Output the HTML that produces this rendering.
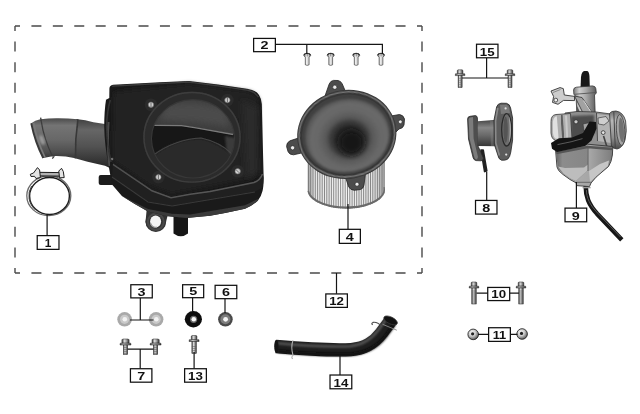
<!DOCTYPE html>
<html><head><meta charset="utf-8">
<style>
html,body{margin:0;padding:0;background:#fff;}
body{width:640px;height:414px;overflow:hidden;font-family:"Liberation Sans",sans-serif;}
svg{display:block;}
.lb rect{fill:#fff;stroke:#111;stroke-width:1.25;}
.lb text{font-family:"Liberation Sans",sans-serif;font-weight:bold;font-size:11.5px;fill:#111;text-anchor:middle;}
.ln{stroke:#151515;stroke-width:1.2;fill:none;}
.ds{stroke:#4a4a4a;stroke-width:1.4;fill:none;}
</style></head><body>
<svg width="640" height="414" viewBox="0 0 640 414">
<defs>
<linearGradient id="gBolt" x1="0" x2="1" y1="0" y2="0">
 <stop offset="0" stop-color="#3a3a3a"/><stop offset=".35" stop-color="#dadada"/><stop offset=".6" stop-color="#a8a8a8"/><stop offset="1" stop-color="#333"/>
</linearGradient>
<linearGradient id="gScrew" x1="0" x2="1" y1="0" y2="0">
 <stop offset="0" stop-color="#555"/><stop offset=".4" stop-color="#eee"/><stop offset=".7" stop-color="#ccc"/><stop offset="1" stop-color="#444"/>
</linearGradient>
<radialGradient id="gNut" cx=".4" cy=".35" r=".7">
 <stop offset="0" stop-color="#fafafa"/><stop offset=".45" stop-color="#cdcdcd"/><stop offset=".8" stop-color="#7a7a7a"/><stop offset="1" stop-color="#333"/>
</radialGradient>
<filter id="b05" x="-20%" y="-20%" width="140%" height="140%"><feGaussianBlur stdDeviation=".5"/></filter>
<filter id="b1" x="-20%" y="-20%" width="140%" height="140%"><feGaussianBlur stdDeviation="1"/></filter>
<filter id="b2" x="-20%" y="-20%" width="140%" height="140%"><feGaussianBlur stdDeviation="2"/></filter>
<filter id="b3" x="-20%" y="-20%" width="140%" height="140%"><feGaussianBlur stdDeviation="3"/></filter>
<filter id="b5" x="-30%" y="-30%" width="160%" height="160%"><feGaussianBlur stdDeviation="5"/></filter>
<!-- flange bolt, origin at top-center, total length set by use of shaft rect -->
<g id="boltS">
 <path d="M-3.6 0.8 L-2.8 0 H2.8 L3.6 0.8 V4.2 H-3.6Z" fill="url(#gBolt)" stroke="#222" stroke-width=".5"/>
 <path d="M-5.2 4.2 H5.2 L5.5 6 H-5.5Z" fill="url(#gBolt)" stroke="#222" stroke-width=".5"/>
 <rect x="-2.1" y="6" width="4.2" height="9.6" fill="url(#gBolt)" stroke="#222" stroke-width=".5"/>
 <path d="M-2.1 8.5H2.1M-2.1 10.5H2.1M-2.1 12.5H2.1M-2.1 14.5H2.1" stroke="#5a5a5a" stroke-width=".5"/>
</g>
<g id="boltL">
 <path d="M-2.8 0.6 L-2 0 H2 L2.8 0.6 V4.2 H-2.8Z" fill="url(#gBolt)" stroke="#222" stroke-width=".5"/>
 <path d="M-4.6 4.2 H4.6 L4.8 6 H-4.8Z" fill="url(#gBolt)" stroke="#222" stroke-width=".5"/>
 <rect x="-2.2" y="6" width="4.4" height="16" fill="url(#gBolt)" stroke="#222" stroke-width=".5"/>
 <path d="M-2.2 9H2.2M-2.2 11H2.2M-2.2 13H2.2M-2.2 15H2.2M-2.2 17H2.2M-2.2 19H2.2M-2.2 21H2.2" stroke="#5a5a5a" stroke-width=".5"/>
</g>
<g id="bolt15">
 <path d="M-2.8 0.6 L-2 0 H2 L2.8 0.6 V4 H-2.8Z" fill="url(#gBolt)" stroke="#222" stroke-width=".5"/>
 <path d="M-4.6 4 H4.6 L4.8 5.8 H-4.8Z" fill="url(#gBolt)" stroke="#222" stroke-width=".5"/>
 <rect x="-2" y="5.8" width="4" height="12" fill="url(#gBolt)" stroke="#222" stroke-width=".5"/>
 <path d="M-2 8.5H2M-2 10.5H2M-2 12.5H2M-2 14.5H2M-2 16.5H2" stroke="#5a5a5a" stroke-width=".5"/>
</g>
<g id="bolt13">
 <path d="M-2.8 0.6 L-2 0 H2 L2.8 0.6 V4.2 H-2.8Z" fill="url(#gBolt)" stroke="#222" stroke-width=".5"/>
 <path d="M-4.8 4.2 H4.8 L5 6 H-5Z" fill="url(#gBolt)" stroke="#222" stroke-width=".5"/>
 <rect x="-2.2" y="6" width="4.4" height="12" fill="url(#gBolt)" stroke="#222" stroke-width=".5"/>
 <path d="M-2.2 11H2.2M-2.2 13H2.2M-2.2 15H2.2M-2.2 17H2.2" stroke="#5a5a5a" stroke-width=".5"/>
</g>
<g id="screw">
 <path d="M-3.5 2.2 Q-3.5 0 0 0 Q3.5 0 3.5 2.2 L1.9 4.2 V11.6 Q0 12.8 -1.9 11.6 V4.2Z" fill="url(#gScrew)" stroke="#333" stroke-width=".6"/>
 <path d="M-3.2 1.8 Q-2.8 .3 0 .3 Q2.8 .3 3.2 1.8" fill="none" stroke="#2a2a2a" stroke-width="1.1"/>
 <path d="M0 .8V3.2" stroke="#444" stroke-width=".6"/>
</g>
</defs>
<rect width="640" height="414" fill="#fff"/>
<!-- dashed frame -->
<g class="ds">
<path d="M15 26H422" stroke-dasharray="10 11.42" stroke-dashoffset="5"/>
<path d="M15 273H422" stroke-dasharray="10 11.42" stroke-dashoffset="5"/>
<path d="M15 26V273" stroke-dasharray="10 10.58" stroke-dashoffset="5"/>
<path d="M422 26V273" stroke-dasharray="10 10.58" stroke-dashoffset="5"/>
</g>
<!-- PARTS -->
<g id="parts">

<!-- ===== HOSE 14 ===== -->
<g id="hose14">
 <path d="M276 346.5 C300 348.5 330 350.6 351 349.6 C366 348.6 374.5 342 381.5 333 L391 320.2" fill="none" stroke="#1e1e1e" stroke-width="13.4" stroke-linecap="butt"/>
 <path d="M278 343.3 C300 345.3 330 347.2 350 346.2 C363 345 371 339.5 378 330.5 L386 319.5" fill="none" stroke="#565656" stroke-width="2.6" filter="url(#b1)"/>
 <path d="M278 351.3 C300 353.3 330 355.3 352 354.2 C369 352.5 378.5 345.5 385.5 336.5 L394.5 324" fill="none" stroke="#0c0c0c" stroke-width="3" filter="url(#b1)"/>
 <!-- left end -->
 <ellipse cx="276.3" cy="346.4" rx="2.1" ry="6.6" fill="#141414"/>
 <!-- right end cap -->
 <ellipse cx="390.6" cy="320.4" rx="7.4" ry="3.4" transform="rotate(26 390.6 320.4)" fill="#121212" stroke="#3a3a3a" stroke-width=".7"/>
 <path d="M382.6 324.3 L396.8 330.2" stroke="#8a8a8a" stroke-width=".9"/>
 <!-- clamps -->
 <path d="M293 340.3 C291.4 345 291.4 350 293 355.3 q-2.2 2 -.2 3.6" fill="none" stroke="#b0b0b0" stroke-width="1.1"/>
 <path d="M382 326.5 C379 323.5 376 321.8 373 322.4 q-2.2 1 -.3 2.4" fill="none" stroke="#4a4a4a" stroke-width="1.1"/>
</g>
<!-- ===== CLAMP 1 ===== -->
<g id="clamp1">
 <ellipse cx="48.8" cy="195.8" rx="22" ry="19.9" fill="none" stroke="#6a6a6a" stroke-width="1.3"/>
 <ellipse cx="49.5" cy="196" rx="19.9" ry="18.5" fill="none" stroke="#1c1c1c" stroke-width="1.4"/>
 <path d="M30 186 A22 19.9 0 0 0 34 210" fill="none" stroke="#444" stroke-width="1" transform="translate(1.6 0)"/>
 <!-- band + screw -->
 <path d="M38 172.3 L60 172.6 L60 176.3 L38 176Z" fill="#8a8a8a" stroke="#1e1e1e" stroke-width="1"/>
 <path d="M39 174 H59" stroke="#d9d9d9" stroke-width="1"/>
 <path d="M30.3 174.3 L33.5 173 L37.5 167.6 L39.6 170 L40.4 177.5 L36 178.5 L34.5 176.3 L31 176.5Z" fill="#e4e4e4" stroke="#1e1e1e" stroke-width="1"/>
 <path d="M58.8 171 L61.5 168.3 L63.3 171.5 L64.2 177.6 L59.5 177.8Z" fill="#e4e4e4" stroke="#1e1e1e" stroke-width="1"/>
</g>
<!-- ===== INTAKE HOSE ===== -->
<g id="inhose">
 <defs>
  <linearGradient id="gIn1" x1="0" x2="0" y1="0" y2="1">
   <stop offset="0" stop-color="#4a4a4a"/><stop offset=".18" stop-color="#747474"/><stop offset=".55" stop-color="#676767"/><stop offset=".85" stop-color="#4e4e4e"/><stop offset="1" stop-color="#363636"/>
  </linearGradient>
  <linearGradient id="gIn2" x1="0" x2="0" y1="0" y2="1">
   <stop offset="0" stop-color="#404040"/><stop offset=".22" stop-color="#666"/><stop offset=".55" stop-color="#525252"/><stop offset="1" stop-color="#242424"/>
  </linearGradient>
 </defs>
 <!-- right segment -->
 <path d="M76 119 Q86 120 93.4 122.2 L105 124.1 L112 126 L112 169 L105 165.8 L87.6 161.8 Q80 159.5 74 158Z" fill="url(#gIn2)"/>
 <!-- left segment -->
 <path d="M31.2 123.2 Q35 120.5 40.3 119.3 Q50 118 58.6 118.2 Q68 118.3 77.9 119.3 Q75 139 75.5 158.2 Q64 155.6 53.8 156 L43.2 158 Q35 142 31.2 123.2Z" fill="url(#gIn1)"/>
 <path d="M77.9 119.3 Q75 139 75.5 158.2" fill="none" stroke="#383838" stroke-width="1.6" filter="url(#b05)"/>
 <!-- flared rim -->
 <path d="M31.2 123.2 Q35 142 43.2 158" fill="none" stroke="#383838" stroke-width="1.8"/>
 <path d="M33.6 123 Q37 141 45 157.3" fill="none" stroke="#7a7a7a" stroke-width="1.6" filter="url(#b05)"/>
 <path d="M41 120 Q44 139.5 52.6 156.4" fill="none" stroke="#3c3c3c" stroke-width="1.3" filter="url(#b05)"/>
 <ellipse cx="42" cy="140" rx="2.2" ry="5" fill="#9a9a9a" transform="rotate(-20 42 140)" filter="url(#b1)"/>
 <path d="M40.6 117.6 L41.2 120.5 M52.3 158.6 L54.3 156.2" stroke="#3c3c3c" stroke-width="1.3"/>
</g>
<!-- ===== AIRBOX ===== -->
<g id="airbox">
 <!-- small tube left -->
 <rect x="98.7" y="175" width="15" height="10" rx="2" fill="#1c1c1c"/>
 <path d="M100 177.6 H111" stroke="#8a8a8a" stroke-width="1.6" filter="url(#b05)"/>
 <!-- mounting lug -->
 <path d="M147 206 L145.5 222 A10.3 10.3 0 0 0 166 222 L168 214Z" fill="#333"/>
 <circle cx="155.8" cy="221.8" r="10.3" fill="#343434"/>
 <circle cx="155.8" cy="221.8" r="8" fill="none" stroke="#4a4a4a" stroke-width="2" filter="url(#b05)"/>
 <ellipse cx="155.6" cy="221.5" rx="5.5" ry="5.9" fill="#f4f4f4"/>
 <path d="M150.6 223.5 A5.5 5.9 0 0 0 157 227.2" fill="none" stroke="#999" stroke-width="1.5" filter="url(#b05)"/>
 <!-- drain tube -->
 <path d="M173.5 212 H188 V233.5 Q180.8 239 173.5 233.5Z" fill="#161616"/>
 <path d="M179.5 218 V234" stroke="#5a5a5a" stroke-width="2.5" filter="url(#b1)"/>
 <!-- box body silhouette -->
 <path d="M105.6 100 L109.3 98 L109.4 88.5 Q109.6 85.2 113 84.7 L160 82.2 L189 80.9 L218 84.5 L247 88.8 Q256 90 259 95 Q261.6 99 261.8 104 L263.6 176 Q263.8 186 262.5 191 Q261 197 258 200.5 Q252 206 245 208.8 L225 213 L210 215.8 L186 218 L166 216 L148 211.5 L134.4 203.8 L121.9 196 L112 184.4 L108.5 165 Q104.5 145 104.2 126.5 Q104.3 110 106 100Z" fill="#1a1a1a"/>
 <path d="M108.5 122 Q106.8 140 109.5 166" fill="none" stroke="#4c4c4c" stroke-width="2.2" filter="url(#b05)"/>
 <circle cx="112.2" cy="159" r="1.2" fill="#bbb"/>
 <!-- bottom strip of box -->
 <path d="M122 196 L148 209 L172 213.8 L190 214.6 L245 205.2 L258 199 L258 200.5 Q252 206 245 208.8 L225 213 L210 215.8 L186 218 L166 216 L148 211.5 L134.4 203.8Z" fill="#3a3a3a" filter="url(#b05)"/>
 <!-- lid depth band -->
 <path d="M113 163.5 L152 190 L171 197 L190 193.5 L210 190.8 L254 181.8 Q261 179 262.6 172 L263.6 178 Q263.6 184 262 188 L255 191.5 L172 205.5 L148 201.5 L112 176.5Z" fill="#202020"/>
 <path d="M113 164.3 L152 190.8 L171 197.8 L190 194.2 L210 191.5 L254 182.5 Q260.5 180 262.4 174" fill="none" stroke="#585858" stroke-width="1.5" filter="url(#b05)"/>
 <path d="M112 177 L148 202 L172 206 L255 192" fill="none" stroke="#393939" stroke-width="1.1" filter="url(#b05)"/>
 <!-- lid face subtle shading -->
 <path d="M114 92 L112 160 L150 186 L171 194 L254 178 L259 100 Q255 92 247 91 L189 83.5Z" fill="#202020" filter="url(#b2)"/>
 <path d="M242 100 L258 108 L259 172 L246 178Z" fill="#292929" filter="url(#b3)"/>
 <!-- top edge highlight -->
 <path d="M112 86.2 L160 83.5 L189 82.2 L218 85.8 L247 90.2 Q255 91.5 258.5 97" fill="none" stroke="#3c3c3c" stroke-width="1.3" filter="url(#b05)"/>
 <path d="M110.3 100 Q106.8 112 106.6 126.5 Q107 145 111 162" fill="none" stroke="#343434" stroke-width="1.6" filter="url(#b05)"/>
 <!-- rim around opening with bosses -->
 <g fill="#2b2b2b">
  <ellipse cx="192" cy="137.3" rx="49" ry="45.8"/>
  <circle cx="151" cy="104.7" r="6.3"/><circle cx="227.4" cy="100.1" r="6.3"/><circle cx="237.7" cy="171.3" r="6.3"/><circle cx="158.4" cy="177.1" r="6.3"/>
 </g>
 <ellipse cx="192" cy="137.3" rx="48" ry="44.8" fill="none" stroke="#3d3d3d" stroke-width="1.4" filter="url(#b05)"/>
 <!-- opening -->
 <ellipse cx="193" cy="138.8" rx="41.5" ry="39.2" fill="#141414"/>
 <clipPath id="cpOpen"><ellipse cx="193" cy="138.8" rx="41.5" ry="39.2"/></clipPath>
 <g clip-path="url(#cpOpen)">
  <path d="M148 95 H240 V137 L233.2 134 L196 127.5 L181.5 125.4 L153 124.8 L148 130Z" fill="#3e3e3e" filter="url(#b05)"/>
  <path d="M165 106 Q195 98 226 110 L230 127 L196 122 L160 120Z" fill="#4c4c4c" filter="url(#b3)"/>
  <path d="M153 125.3 L181.5 125.6 L196 127.8 L233.2 134.5" fill="none" stroke="#7a7a7a" stroke-width="1.3" filter="url(#b05)"/>
  <path d="M152 127 L181.5 127 L196 129.3 L234 136 L236 156 Q225 146 201 138 Q175 139 153 156Z" fill="#171717"/>
  <path d="M225 136 L236 138 V170 L228 165Z" fill="#3a3a3a" filter="url(#b1)"/>
  <path d="M150 158 Q172 139.5 201 138.5 Q222 143 234 158 Q236 175 215 182 Q185 188 158 172Z" fill="#2b2b2b" filter="url(#b1)"/>
  <path d="M153.6 155 Q174.8 139.4 201 138 Q220 142 232 154" fill="none" stroke="#454545" stroke-width="1.1" filter="url(#b05)"/>
 </g>
 <ellipse cx="193" cy="138.8" rx="41.5" ry="39.2" fill="none" stroke="#383838" stroke-width="1.1"/>
 <!-- screws -->
 <g>
  <circle cx="151" cy="104.7" r="2.7" fill="#cfcfcf" stroke="#666" stroke-width=".6"/><path d="M151 102.5V106.9" stroke="#555" stroke-width=".8"/>
  <circle cx="227.4" cy="100.1" r="2.7" fill="#cfcfcf" stroke="#666" stroke-width=".6"/><path d="M227.4 97.9V102.3" stroke="#555" stroke-width=".8"/>
  <circle cx="237.7" cy="171.3" r="2.7" fill="#cfcfcf" stroke="#666" stroke-width=".6"/><path d="M236.2 169.8L239.2 172.8" stroke="#555" stroke-width=".8"/>
  <circle cx="158.4" cy="177.1" r="2.7" fill="#cfcfcf" stroke="#666" stroke-width=".6"/><path d="M158.4 174.9V179.3" stroke="#555" stroke-width=".8"/>
 </g>
</g>

<!-- ===== FILTER 4 ===== -->
<g id="filter4">
 <defs>
  <linearGradient id="gPleat" x1="0" x2="1" y1="0" y2="0">
   <stop offset="0" stop-color="#9a9a9a"/><stop offset=".1" stop-color="#e6e6e6"/><stop offset=".5" stop-color="#f2f2f2"/><stop offset=".88" stop-color="#e2e2e2"/><stop offset="1" stop-color="#a0a0a0"/>
  </linearGradient>
  <radialGradient id="gFun" cx="348.5" cy="139" r="43" gradientUnits="userSpaceOnUse" gradientTransform="translate(348.5 139) scale(1 .92) translate(-348.5 -139)">
   <stop offset="0" stop-color="#1e1e1e"/><stop offset=".3" stop-color="#272727"/><stop offset=".43" stop-color="#3c3c3c"/><stop offset=".54" stop-color="#585858"/><stop offset=".7" stop-color="#666"/><stop offset=".88" stop-color="#6a6a6a"/><stop offset="1" stop-color="#585858"/>
  </radialGradient>
  <clipPath id="cpF"><path d="M307.7 150 V192 A38.4 18.6 0 0 0 384.7 188 V150Z"/></clipPath>
 </defs>
 <!-- pleated body -->
 <g clip-path="url(#cpF)">
  <rect x="307" y="150" width="78" height="65" fill="url(#gPleat)"/>
  <path d="M308.40 160V214M310.70 160V214M313.00 160V214M315.30 160V214M317.60 160V214M319.90 160V214M322.20 160V214M324.50 160V214M326.80 160V214M329.10 160V214M331.40 160V214M333.70 160V214M336.00 160V214M338.30 160V214M340.60 160V214M342.90 160V214M345.20 160V214M347.50 160V214M349.80 160V214M352.10 160V214M354.40 160V214M356.70 160V214M359.00 160V214M361.30 160V214M363.60 160V214M365.90 160V214M368.20 160V214M370.50 160V214M372.80 160V214M375.10 160V214M377.40 160V214M379.70 160V214M382.00 160V214M384.30 160V214" stroke="#6a6a6a" stroke-width=".9" opacity=".85"/>
  <path d="M307.7 165 H385" stroke="#555" stroke-width="14" opacity=".35" filter="url(#b3)"/>
  <path d="M307.7 191 A38.4 18.6 0 0 0 384.7 187" fill="none" stroke="#6a6a6a" stroke-width="2.6" filter="url(#b05)"/>
 </g>
 <!-- lugs -->
 <g fill="#4c4c4c" stroke="#222" stroke-width=".8">
  <path d="M325 96 L329.2 84 Q330.5 80.8 333.5 80.4 L338 80.5 Q341 81 342.3 84 L346.5 94Z"/>
  <path d="M391 116 L399.5 114.5 Q403.5 115 404.5 119 L404 125 Q403 128.5 399 129 L394 134Z"/>
  <path d="M345 176 L348.8 187 Q350.3 190 354.3 190.3 L360.5 189.5 Q363.5 188.5 364 185 L365.5 173Z"/>
  <path d="M303 136.5 L290 140.8 Q286.5 142.5 286.6 146.5 L288 151.5 Q289.5 155 293.5 154.8 L306 152Z"/>
 </g>
 <g fill="#ececec" stroke="#222" stroke-width=".6">
  <circle cx="334.8" cy="87.2" r="2.1"/><circle cx="400.3" cy="121.8" r="1.9"/><circle cx="357" cy="184.2" r="2"/><circle cx="292.6" cy="147.8" r="2.1"/>
 </g>
 <!-- flange -->
 <g transform="rotate(-10 346.8 134.4)">
  <ellipse cx="346.8" cy="134.4" rx="49.8" ry="44.4" fill="#363636"/>
  <ellipse cx="346.8" cy="134.4" rx="47.8" ry="42.4" fill="none" stroke="#747474" stroke-width="1.5" filter="url(#b05)"/>
  <ellipse cx="346.8" cy="134.4" rx="45" ry="39.6" fill="#404040"/>
 </g>
 <ellipse cx="347.3" cy="135.5" rx="42.3" ry="36.6" transform="rotate(-10 347.3 135.5)" fill="url(#gFun)" filter="url(#b1)"/>
 <ellipse cx="351.5" cy="142.5" rx="12" ry="12" fill="#161616" filter="url(#b3)"/>
</g>
<!-- ===== MANIFOLD 8 ===== -->
<g id="man8">
 <defs>
  <linearGradient id="gTube8" x1="0" x2="0" y1="0" y2="1">
   <stop offset="0" stop-color="#444"/><stop offset=".3" stop-color="#868686"/><stop offset=".6" stop-color="#686868"/><stop offset="1" stop-color="#363636"/>
  </linearGradient>
 </defs>
 <!-- small nipple -->
 <path d="M481 150 L483.2 150 L486.8 171 L484.6 171.6Z" fill="#222" stroke="#222" stroke-width="1.6" stroke-linejoin="round"/>
 <!-- left flange -->
 <path d="M467.6 119 Q467.6 116.6 470 116.3 L475.5 115.6 Q477.2 115.8 477.4 118 L478 146 L483.4 158 Q483.6 160.6 481 160.8 L476 160.6 Q474 160.2 473.2 158 L468.5 139Z" fill="#4e4e4e" stroke="#2a2a2a" stroke-width=".8"/>
 <path d="M468.6 119.5 Q468.8 117.6 470.5 117.4 L473 117.1 L473.6 138.5 L478 157 L477 159.5 Q475 159.3 474.4 157.5 L469.5 138.5Z" fill="#7c7c7c" filter="url(#b05)"/>
 <!-- tube -->
 <path d="M477.6 121.3 L497 119.8 L497 146.2 L478 146Z" fill="url(#gTube8)"/>
 <path d="M490 121 L497 120 L497 146 L491 146Z" fill="#8a8a8a" opacity=".35" filter="url(#b05)"/>
 <!-- right flange -->
 <path d="M496.6 107 Q497.6 103.6 501 103.2 L506.5 103.3 Q509.8 104 510.6 108 L512.6 118 L512.6 140 L510.8 152 Q510 157.5 507.5 159.3 Q505 160.6 501.5 160.2 Q498.5 159.3 497.8 155 L494.2 144 L494 120Z" fill="#5c5c5c" stroke="#262626" stroke-width=".8"/>
 <path d="M497.8 108 L495.6 121 L495.8 143 L499.4 155.5" fill="none" stroke="#8a8a8a" stroke-width="1.6" filter="url(#b05)"/>
 <path d="M500 105 L506.5 104.8 Q508.6 105.6 509.2 108.5 L510 113 L501 114Z" fill="#7a7a7a" filter="url(#b05)"/>
 <ellipse cx="506.7" cy="129.8" rx="5" ry="16.2" fill="#6e6e6e" stroke="#2a2a2a" stroke-width="1.3"/>
 <path d="M508.3 115.8 A3.4 14.4 0 0 1 508.3 143.8 A1.4 14 0 0 0 508.3 115.8Z" fill="#b4b4b4" filter="url(#b05)"/>
 <ellipse cx="505.6" cy="129.8" rx="2.2" ry="13" fill="#555" filter="url(#b05)"/>
 <circle cx="505.6" cy="108.4" r="1.1" fill="#e0e0e0"/><circle cx="506.2" cy="154.6" r="1.1" fill="#e0e0e0"/>
</g>
<!-- ===== CARB 9 ===== -->
<g id="carb9">
 <defs>
  <linearGradient id="gCyl9" x1="0" x2="1" y1="0" y2="0">
   <stop offset="0" stop-color="#7a7a7a"/><stop offset=".25" stop-color="#cfcfcf"/><stop offset=".55" stop-color="#a8a8a8"/><stop offset="1" stop-color="#5b5b5b"/>
  </linearGradient>
  <linearGradient id="gBowlL" x1="0" x2="1" y1="0" y2="0">
   <stop offset="0" stop-color="#666"/><stop offset=".2" stop-color="#8c8c8c"/><stop offset="1" stop-color="#868686"/>
  </linearGradient>
  <linearGradient id="gBowlR" x1="0" x2="1" y1="0" y2="0">
   <stop offset="0" stop-color="#b4b4b4"/><stop offset=".6" stop-color="#a6a6a6"/><stop offset="1" stop-color="#7c7c7c"/>
  </linearGradient>
  <linearGradient id="gSpig" x1="0" x2="0" y1="0" y2="1">
   <stop offset="0" stop-color="#6a6a6a"/><stop offset=".25" stop-color="#b8b8b8"/><stop offset=".7" stop-color="#8e8e8e"/><stop offset="1" stop-color="#4a4a4a"/>
  </linearGradient>
 </defs>
 <!-- drain hose -->
 <path d="M585.7 186 C585.8 197 588.5 204 596.9 213.6 L621.8 239.8" fill="none" stroke="#171717" stroke-width="4.6" stroke-linecap="butt"/><path d="M586.4 190 C586.6 198 589.5 204.5 597.6 213 L620.5 237" fill="none" stroke="#5a5a5a" stroke-width="1" filter="url(#b05)"/>
 <!-- cable boot -->
 <path d="M580.6 87 L581 77 Q581.6 71.6 584.4 71 L587.2 71 Q589.3 71.6 589.5 77 L589.8 87Z" fill="#181818"/><path d="M583.2 74 V85" stroke="#444" stroke-width="1" filter="url(#b05)"/>
 <!-- bracket -->
 <path d="M551 91 L560 87.6 L563.3 88.6 L564.3 95 L574.5 96.4 L574.5 100.6 L563.5 100.4 L558 104.3 L552.5 102.4 L553.6 96.5Z" fill="#cdcdcd" stroke="#333" stroke-width=".9"/>
 <circle cx="555.8" cy="100.1" r="1.9" fill="#f2f2f2" stroke="#333" stroke-width=".8"/>
 <path d="M553 92.5 L560.5 89.5" stroke="#777" stroke-width=".8"/>
 <!-- slide chamber -->
 <path d="M573.6 90 Q573.6 87.5 576.5 87.2 L592.5 85.9 Q595.6 86.2 595.8 88.6 L596.3 93 L594.5 95 L595.5 122 L577.5 124 L576 96.5 L573.9 94.5Z" fill="url(#gCyl9)" stroke="#333" stroke-width=".8"/>
 <path d="M574.5 94.3 L596 92.5" stroke="#555" stroke-width=".9"/>
 <!-- V arm -->
 <path d="M574.5 96 L582 97.5 L591 111 L594 121.5 L586.5 123 L582.5 112Z" fill="#a2a2a2" stroke="#2e2e2e" stroke-width=".8"/><path d="M583.5 100.5 L592 113.5" stroke="#d8d8d8" stroke-width="1" filter="url(#b05)"/>
 <path d="M576 104 L580 112 L581.5 124 L577.5 124Z" fill="#555" filter="url(#b05)"/>
 <!-- main body -->
 <path d="M565 113 L577 111.5 L596 112 L611 114 L613 146 L590 150 L566 141Z" fill="#909090" stroke="#333" stroke-width=".8"/>
 <path d="M571 116 L594 115 L595 133 L583 138 L571 139Z" fill="#4e4e4e" filter="url(#b1)"/>
 <path d="M597 114 L610 115.5 L611 143 L598 141Z" fill="#b4b4b4" filter="url(#b05)"/>
 <path d="M596.5 113 L597.5 141" stroke="#444" stroke-width=".9"/>
 <path d="M598 118 L606 116.5 L609 121 L604 125 L598.5 124Z" fill="#cfcfcf" stroke="#3c3c3c" stroke-width=".7"/>
 <circle cx="603.2" cy="132.6" r="1.9" fill="#e2e2e2" stroke="#2e2e2e" stroke-width=".8"/>
 <path d="M603.5 136 L607 147" stroke="#444" stroke-width="1.6"/>
 <circle cx="576" cy="121.8" r="2.1" fill="#c8c8c8" stroke="#2e2e2e" stroke-width=".8"/>
 <path d="M583 124 L590 122.5 L589 130 L584 131Z" fill="#a2a2a2" stroke="#333" stroke-width=".6"/>
 <!-- air horn left -->
 <path d="M551 121.5 Q551 115 556 114.5 L570.5 113.5 L572 138.5 L555.5 140.5 Q551.5 139 551 133Z" fill="#adadad" stroke="#333" stroke-width=".8"/>
 <path d="M552.8 122 Q553.3 117 556.8 116.3 L558.6 138.5 L556 138.8 Q553.2 137.5 552.9 132.5Z" fill="#e0e0e0" filter="url(#b05)"/>
 <path d="M561.5 115 L563.3 139" stroke="#5e5e5e" stroke-width="2.2" filter="url(#b05)"/>
 <path d="M566 115.5 L567.3 138.5" stroke="#c9c9c9" stroke-width="2" filter="url(#b05)"/>
 <!-- spigot right -->
 <path d="M609.5 113.5 Q611 110.8 616 111 Q623.5 112.3 625.6 121 Q627.2 131 625 140 Q622.5 148 617 149 L611.5 147.5Z" fill="url(#gSpig)" stroke="#333" stroke-width=".8"/>
 <ellipse cx="620.6" cy="130" rx="4.2" ry="15.5" fill="#a4a4a4" stroke="#3e3e3e" stroke-width=".8" transform="rotate(-4 620.6 130)"/>
 <ellipse cx="621.4" cy="130" rx="2.5" ry="12.4" fill="#707070" transform="rotate(-4 621.4 130)"/>
 <path d="M613.8 112 L615.3 148.5" stroke="#444" stroke-width="1"/>
 <!-- float bowl -->
 <path d="M555.6 150.5 L587.5 144.2 L612.8 146.5 L612.4 155 Q611.5 162 608.5 166.5 L600 173.7 L596 177.2 L591 183 L589.5 186.6 L576.6 185.6 L576.3 183 L570 179.5 L563 174.5 Q557.5 170.5 557 167Z" fill="url(#gBowlR)" stroke="#353535" stroke-width=".9"/>
 <path d="M556 151 L587.5 145 L588 170 L580 177.5 L576 181.5 L570 178.8 L563.4 174 Q558.2 170 557.7 167Z" fill="url(#gBowlL)"/>
 <path d="M558 166.5 L565 168 L584 167.5 L588 164.5 L588 170 L580 177.3 L576 181 L570 178.3 L563.5 173.5Z" fill="#bdbdbd" filter="url(#b05)"/>
 <path d="M589 171 L600 164 L609 160.5 L608 166 L596 176.5 L590 182Z" fill="#c6c6c6" filter="url(#b05)"/>
 <path d="M556.2 153 L587.5 147 L612.3 149" fill="none" stroke="#565656" stroke-width="2.4" filter="url(#b05)"/>
 <path d="M588 146 V171" stroke="#5a5a5a" stroke-width=".9"/>
 <path d="M576.5 182.3 H590.8" stroke="#555" stroke-width=".8"/>
 <!-- gasket black -->
 <path d="M551 143 L559 138.3 L572 137.6 L583 133 L589.5 121.5 L596 122 L596.5 128.5 L591.5 140.5 L585 146 L557 152 L552 148.8Z" fill="#141414"/>
 <path d="M557.5 144.6 L571 141.8 L582.5 138.6" stroke="#5a5a5a" stroke-width="1" fill="none" filter="url(#b05)"/>
 <!-- hose clip -->
 <path d="M582.6 187.6 H590.6" stroke="#9a9a9a" stroke-width="1.4"/>
</g>
<!--BIG4-->

<!-- screws 2 -->
<use href="#screw" x="307.2" y="53.2"/><use href="#screw" x="330.7" y="53.2"/><use href="#screw" x="356.2" y="53.2"/><use href="#screw" x="381" y="53.2"/>
<!-- washers 3 -->
<g filter="url(#b05)">
<circle cx="124.6" cy="319.3" r="7.3" fill="#a9a9a9"/><circle cx="124.6" cy="319.3" r="4.6" fill="#c9c9c9"/><circle cx="124.8" cy="319.3" r="2.3" fill="#f2f2f2"/>
<circle cx="156.1" cy="319.3" r="7.3" fill="#a9a9a9"/><circle cx="156.1" cy="319.3" r="4.6" fill="#c9c9c9"/><circle cx="156.3" cy="319.3" r="2.3" fill="#f2f2f2"/>
<!-- 5 -->
<ellipse cx="193.4" cy="319.3" rx="8.6" ry="8.2" fill="#0c0c0c"/><circle cx="193.6" cy="319.3" r="3.6" fill="#6a6a6a"/><circle cx="193.8" cy="319.2" r="2.3" fill="#fafafa"/>
<!-- 6 -->
<circle cx="225.4" cy="319.3" r="7.3" fill="#4a4a4a"/><circle cx="225.4" cy="319.3" r="5" fill="#7d7d7d"/><circle cx="225.6" cy="319.3" r="2.4" fill="#f6f6f6"/>
</g>
<!-- bolts 7 -->
<use href="#boltS" x="125.5" y="339"/><use href="#boltS" x="155.6" y="339"/>
<!-- bolt 13 -->
<use href="#bolt13" x="194.1" y="335.5"/>
<!-- bolts 15 -->
<use href="#bolt15" x="460.1" y="69.8"/><use href="#bolt15" x="510" y="69.8"/>
<!-- bolts 10 -->
<use href="#boltL" x="474" y="282"/><use href="#boltL" x="521" y="282"/>
<!-- nuts 11 -->
<g filter="url(#b05)">
<circle cx="473.2" cy="334.4" r="5.3" fill="url(#gNut)" stroke="#2a2a2a" stroke-width=".9"/><circle cx="472.6" cy="333.8" r="1.6" fill="#222"/>
<circle cx="522.1" cy="334" r="5.3" fill="url(#gNut)" stroke="#2a2a2a" stroke-width=".9"/><circle cx="521.5" cy="333.4" r="1.6" fill="#222"/>
</g>
</g>
<!-- leader lines -->
<g class="ln">
<path d="M47.1 214.5V235.5"/>
<path d="M276 44.3H382.4V54M306.8 44.3V54"/>
<path d="M140.3 298V320M130 320H153.5"/>
<path d="M192.6 298V312"/>
<path d="M225 299V313"/>
<path d="M127.5 349.1H153.5M140.2 349.1V368.5"/>
<path d="M194.1 352V368.5"/>
<path d="M336.5 273V293.8"/>
<path d="M340 356V375"/>
<path d="M348 204V229.3"/>
<path d="M486.6 58V78M462 78H508"/>
<path d="M486.7 172V200.3"/>
<path d="M576.4 182V208"/>
<path d="M476.5 293.2H488M510 293.2H519"/>
<path d="M478 334.4H488.5M510.5 334.4H517.5"/>
</g>
<!-- labels -->
<g class="lb" style="opacity:.999">
<g><rect x="37.23" y="235.62" width="21.75" height="13.75"/><text x="48.10" y="247.10" textLength="6.6" lengthAdjust="spacingAndGlyphs">1</text></g>
<g><rect x="253.62" y="38.42" width="21.75" height="13.25"/><text x="264.50" y="49.40" textLength="8.0" lengthAdjust="spacingAndGlyphs">2</text></g>
<g><rect x="130.82" y="284.73" width="21.45" height="13.15"/><text x="141.55" y="295.60" textLength="8.0" lengthAdjust="spacingAndGlyphs">3</text></g>
<g><rect x="339.32" y="229.32" width="21.05" height="14.05"/><text x="349.85" y="241.10" textLength="8.0" lengthAdjust="spacingAndGlyphs">4</text></g>
<g><rect x="182.62" y="284.73" width="21.05" height="12.95"/><text x="193.15" y="295.40" textLength="8.0" lengthAdjust="spacingAndGlyphs">5</text></g>
<g><rect x="215.12" y="285.32" width="21.65" height="13.35"/><text x="225.95" y="296.40" textLength="8.0" lengthAdjust="spacingAndGlyphs">6</text></g>
<g><rect x="130.43" y="368.73" width="21.45" height="13.45"/><text x="141.15" y="379.90" textLength="8.0" lengthAdjust="spacingAndGlyphs">7</text></g>
<g><rect x="475.52" y="200.43" width="21.45" height="13.65"/><text x="486.25" y="211.80" textLength="8.0" lengthAdjust="spacingAndGlyphs">8</text></g>
<g><rect x="565.02" y="208.12" width="21.65" height="13.65"/><text x="575.85" y="219.50" textLength="8.0" lengthAdjust="spacingAndGlyphs">9</text></g>
<g><rect x="487.73" y="287.43" width="21.95" height="13.15"/><text x="498.70" y="298.30" textLength="14.8" lengthAdjust="spacingAndGlyphs">10</text></g>
<g><rect x="488.62" y="327.73" width="21.75" height="13.65"/><text x="499.50" y="339.10" textLength="13.6" lengthAdjust="spacingAndGlyphs">11</text></g>
<g><rect x="325.82" y="293.93" width="21.55" height="13.45"/><text x="336.60" y="305.10" textLength="14.8" lengthAdjust="spacingAndGlyphs">12</text></g>
<g><rect x="184.62" y="368.73" width="21.75" height="13.45"/><text x="195.50" y="379.90" textLength="14.8" lengthAdjust="spacingAndGlyphs">13</text></g>
<g><rect x="330.02" y="375.02" width="21.75" height="13.75"/><text x="340.90" y="386.50" textLength="14.8" lengthAdjust="spacingAndGlyphs">14</text></g>
<g><rect x="476.52" y="44.23" width="21.45" height="13.55"/><text x="487.25" y="55.50" textLength="14.8" lengthAdjust="spacingAndGlyphs">15</text></g>
</g>
</svg>
</body></html>
